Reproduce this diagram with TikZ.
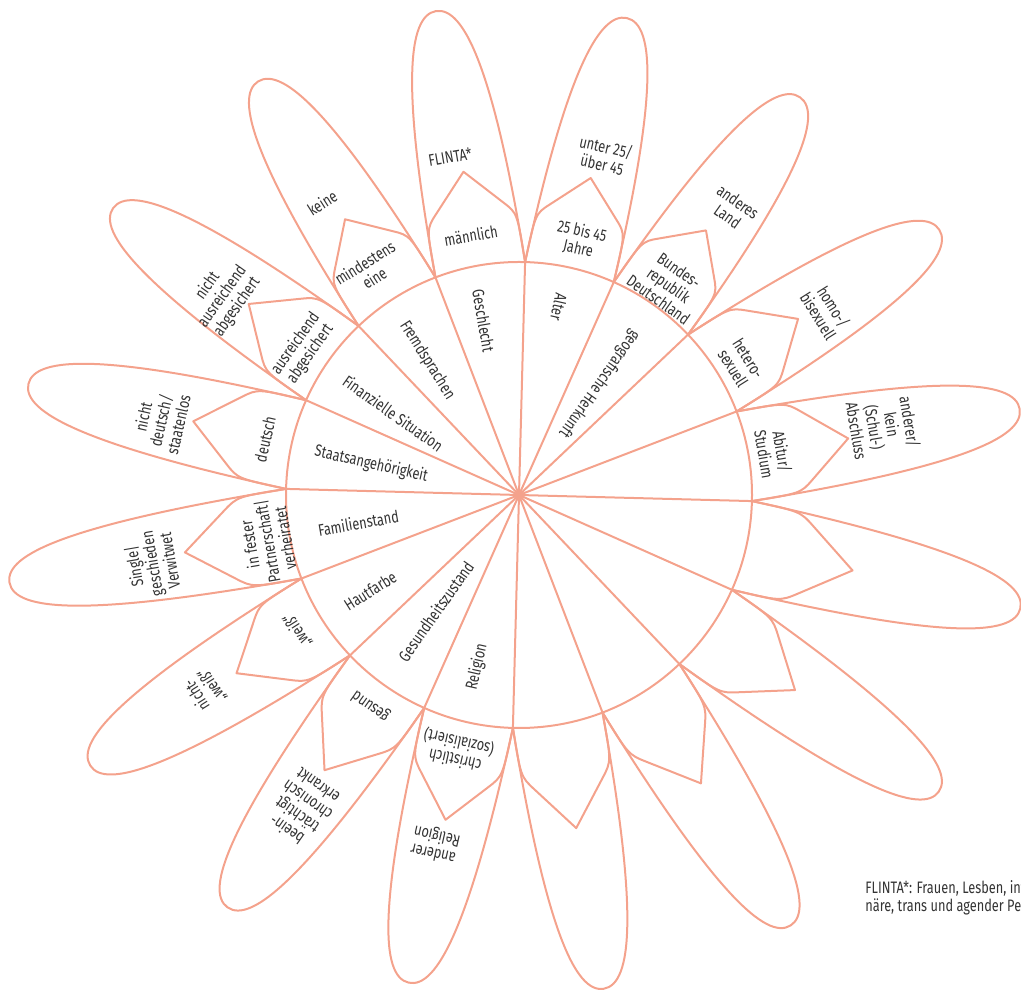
\documentclass[tikz,border=0pt]{standalone}
\usepackage{fontspec}
\setmainfont[FakeStretch=0.77]{Fira Sans}
\definecolor{salmon}{HTML}{F4A28C}
\definecolor{ink}{HTML}{333333}

\begin{document}
\begin{tikzpicture}
   [x=0.5pt, y=0.5pt,
    rim/.style={draw=salmon, line width=1pt, line join=round},
    word/.style={text=ink, font=\fontsize{8.3}{9}\selectfont, align=center, inner sep=0pt},
    pics/petal/.style 2 args={code={
       % outer leaf, tip at #1
       \draw[rim] (11.25:233) .. controls (#1-70,47) and (#1,29) .. (#1,0)
          .. controls (#1,-29) and (#1-70,-47) .. (-11.25:233);
       % inner leaf, tip at #2
       \draw[rim] (11.25:233) .. controls (278,46) .. ({278+0.25*(#2-278)},34.5) -- (#2,0)
          -- ({278+0.25*(#2-278)},-34.5) .. controls (278,-46) .. (-11.25:233);
    }}]
   \useasboundingbox (-519,-494) rectangle (502,495);
   \clip (-519,-494) rectangle (502,495);

   % petals, one per sector
   \pic[rotate=77.25] {petal={489}{325}};
   \pic[rotate=54.75] {petal={487}{324}};
   \pic[rotate=32.25] {petal={497}{330}};
   \pic[rotate=9.75] {petal={508}{334}};
   \pic[rotate=-12.75] {petal={514}{342}};
   \pic[rotate=-35.25] {petal={514}{338}};
   \pic[rotate=-57.75] {petal={509}{341}};
   \pic[rotate=-80.25] {petal={501}{338}};
   \pic[rotate=-102.75] {petal={500}{333}};
   \pic[rotate=-125.25] {petal={505}{337}};
   \pic[rotate=-147.75] {petal={507}{334}};
   \pic[rotate=-170.25] {petal={517}{339}};
   \pic[rotate=167.25] {petal={503}{334}};
   \pic[rotate=144.75] {petal={497}{331}};
   \pic[rotate=122.25] {petal={489}{326}};
   \pic[rotate=99.75] {petal={491}{328}};

   % circle and spokes
   \coordinate (hub) at (0,0);
   \draw[rim] (hub) circle (233);
   \draw[rim] (hub) -- (88.5:233);
   \draw[rim] (hub) -- (66:233);
   \draw[rim] (hub) -- (43.5:233);
   \draw[rim] (hub) -- (21:233);
   \draw[rim] (hub) -- (-1.5:233);
   \draw[rim] (hub) -- (-24:233);
   \draw[rim] (hub) -- (-46.5:233);
   \draw[rim] (hub) -- (-69:233);
   \draw[rim] (hub) -- (-91.5:233);
   \draw[rim] (hub) -- (-114:233);
   \draw[rim] (hub) -- (-136.5:233);
   \draw[rim] (hub) -- (-159:233);
   \draw[rim] (hub) -- (178.5:233);
   \draw[rim] (hub) -- (156:233);
   \draw[rim] (hub) -- (133.5:233);
   \draw[rim] (hub) -- (111:233);

   % inside the circle
   \node[word, rotate=279.75] (geschlecht) at (101.5:178) {Geschlecht};
   \node[word, rotate=257.25] (alter) at (78:192) {Alter};
   \node[word, rotate=234.75] (herkunft) at (54.2:137) {geografische Herkunft};
   \node[word, rotate=302.25] (sprachen) at (124.3:163) {Fremdsprachen};
   \node[word, rotate=324.75] (finanzen) at (147:150) {Finanzielle Situation};
   \node[word, rotate=347.25] (staat) at (168.2:151) {Staatsangehörigkeit};
   \node[word, rotate=9.75] (familie) at (189.9:163) {Familienstand};
   \node[word, rotate=32.25] (haut) at (212.8:177) {Hautfarbe};
   \node[word, rotate=54.75] (gesundheit) at (234.4:143) {Gesundheitszustand};
   \node[word, rotate=77.25] (religion) at (256.3:177) {Religion};

   % inner petals
   \node[word, rotate=9.75] (maennlich) at (100.5:264) {männlich};
   \node[word, rotate=-12.75] (mitte) at (76.5:262) {25 bis 45\\Jahre};
   \node[word, rotate=-35.25] (brd) at (54.5:258) {Bundes-\\republik\\Deutschland};
   \node[word, rotate=-57.75] (hetero) at (30.7:258) {hetero-\\sexuell};
   \node[word, rotate=-80.25] (abitur) at (9.4:258) {Abitur/\\Studium};
   \node[word, rotate=167.25] (christlich) at (256.4:263) {christlich\\(sozialisiert)};
   \node[word, rotate=144.75] (gesund) at (234.9:258) {gesund};
   \node[word, rotate=122.25] (weiss) at (211.5:260) {„weiß“};
   \node[word, rotate=99.75] (partner) at (190.5:256) {in fester\\Partnerschaft|\\verheiratet};
   \node[word, rotate=77.25] (deutsch) at (167.6:260) {deutsch};
   \node[word, rotate=54.75] (gesichert) at (145.9:261) {ausreichend\\abgesichert};
   \node[word, rotate=32.25] (mindestens) at (123.6:270) {mindestens\\eine};

   % outer petals
   \node[word, rotate=9.75] (flinta) at (101.5:345) {FLINTA*};
   \node[word, rotate=-12.75] (rand) at (75.9:350) {unter 25/\\über 45};
   \node[word, rotate=-35.25] (land) at (53.2:357) {anderes\\Land};
   \node[word, rotate=-57.75] (homo) at (30.9:358) {homo-/\\bisexuell};
   \node[word, rotate=-80.25] (abschluss) at (10.7:371) {anderer/\\kein\\(Schul-)\\Abschluss};
   \node[word, rotate=167.25] (andere) at (256.5:359) {anderer\\Religion};
   \node[word, rotate=144.75] (krank) at (235.3:381) {beein-\\trächtigt\\chronisch\\erkrankt};
   \node[word, rotate=122.25] (nichtweiss) at (211.8:370) {nicht-\\„weiß“};
   \node[word, rotate=99.75] (single) at (190.6:374) {Single|\\geschieden\\Verwitwet};
   \node[word, rotate=77.25] (staatenlos) at (168.3:366) {nicht\\deutsch/\\staatenlos};
   \node[word, rotate=54.75] (ungesichert) at (146.2:357) {nicht\\ausreichend\\abgesichert};
   \node[word, rotate=32.25] (keine) at (124:352) {keine};

   % footnote
   \node[word, align=left, anchor=north west] (note) at (346,-385)
      {FLINTA*: Frauen, Lesben, inter, nicht-bi-\\näre, trans und agender Personen};
\end{tikzpicture}
\end{document}
